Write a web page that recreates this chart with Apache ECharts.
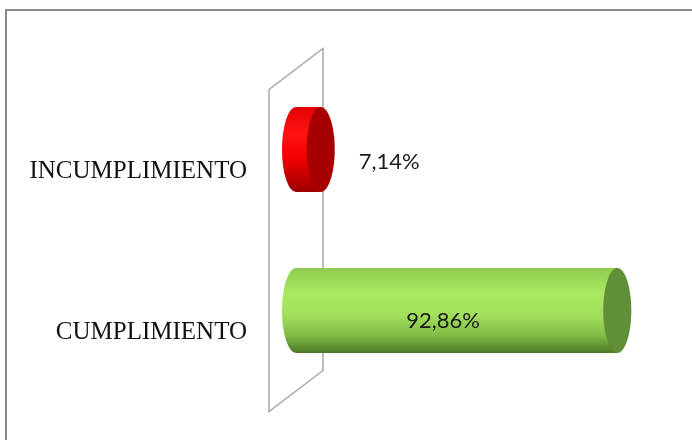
<!DOCTYPE html>
<html>
<head>
<meta charset="utf-8">
<script src="https://cdn.jsdelivr.net/npm/echarts@6/dist/echarts.min.js"></script>
<style>
  html, body { margin: 0; padding: 0; background: #ffffff; }
  #chart { width: 692px; height: 440px; }
</style>
</head>
<body>
<div id="chart"></div>
<script>
// Categories listed bottom to top along the vertical axis
const categories = ['CUMPLIMIENTO', 'INCUMPLIMIENTO'];
const percentValues = [92.86, 7.14];
const valueLabels = ['92,86%', '7,14%'];

// Cylinder shading per category
const bodyStops = [
  [[0, '#8ecb50'], [0.3, '#a9e962'], [0.55, '#a1e05b'], [0.8, '#80ba45'], [1, '#4d7826']],
  [[0, '#e00000'], [0.3, '#ff1414'], [0.6, '#f20000'], [1, '#9a0000']]
];
const capColors = ['#608f37', '#a60000'];

// Oblique depth used for the back wall and label offsets
const DEPTH_X = 27;
const DEPTH_Y = 20.5;

const chart = echarts.init(document.getElementById('chart'), null, { renderer: 'canvas' });

function renderWall(params, api) {
  const cs = params.coordSys;
  const x0 = api.coord([0, 0])[0];
  const top = cs.y, bottom = cs.y + cs.height;
  return {
    type: 'polygon',
    shape: {
      points: [
        [x0 - DEPTH_X, top + DEPTH_Y],
        [x0 + DEPTH_X, top - DEPTH_Y],
        [x0 + DEPTH_X, bottom - DEPTH_Y],
        [x0 - DEPTH_X, bottom + DEPTH_Y]
      ]
    },
    style: { fill: 'none', stroke: '#a6a6a6', lineWidth: 1.5 }
  };
}

function renderCylinder(params, api) {
  const i = params.dataIndex;
  const cat = api.value(0);
  const val = api.value(1);
  const start = api.coord([0, cat]);
  const end = api.coord([val, cat]);
  const band = api.size([0, 1])[1];
  const ry = band * 0.264;
  const rx = ry * 0.33;
  const cy = start[1];
  const top = cy - ry, bottom = cy + ry;
  const sx = start[0], ex = end[0];
  const bodyPath =
    'M' + sx + ',' + top +
    ' L' + ex + ',' + top +
    ' L' + ex + ',' + bottom +
    ' L' + sx + ',' + bottom +
    ' A' + rx + ',' + ry + ' 0 0 1 ' + sx + ',' + top + ' Z';

  const inside = (ex - sx) > 80;
  const label = inside
    ? { x: (sx + ex) / 2 - DEPTH_X / 2, y: cy + DEPTH_Y / 2, align: 'center' }
    : { x: ex + rx + 24, y: cy + 12, align: 'left' };

  return {
    type: 'group',
    children: [
      {
        type: 'path',
        shape: { pathData: bodyPath },
        style: {
          fill: new echarts.graphic.LinearGradient(0, 0, 0, 1,
            bodyStops[i].map(s => ({ offset: s[0], color: s[1] })))
        }
      },
      {
        type: 'ellipse',
        shape: { cx: ex, cy: cy, rx: rx, ry: ry },
        style: { fill: capColors[i] }
      },
      {
        type: 'text',
        x: label.x,
        y: label.y,
        style: {
          text: valueLabels[i],
          fontFamily: 'Lato',
          fontSize: 22,
          fill: '#1a1a1a',
          align: label.align,
          verticalAlign: 'middle'
        }
      }
    ]
  };
}

const option = {
  animation: false,
  backgroundColor: '#ffffff',
  graphic: [{
    type: 'rect',
    shape: { x: 6, y: 10, width: 700, height: 450 },
    style: { fill: 'none', stroke: '#8a8a8a', lineWidth: 2 },
    z: 10
  }],
  grid: { left: 296, right: 50, top: 69, bottom: 49, outerBoundsMode: 'none' },
  xAxis: { type: 'value', min: 0, max: 100, show: false },
  yAxis: {
    type: 'category',
    data: categories,
    axisLine: { show: false },
    axisTick: { show: false },
    splitLine: { show: false },
    axisLabel: {
      margin: 49,
      fontFamily: 'Liberation Serif',
      fontSize: 25,
      color: '#111111',
      verticalAlign: 'top',
      lineHeight: 43
    }
  },
  series: [
    {
      type: 'custom',
      name: 'wall',
      renderItem: renderWall,
      data: [[0, 0]],
      encode: { x: 1, y: 0 },
      z: 1,
      silent: true
    },
    {
      type: 'custom',
      name: 'porcentaje',
      renderItem: renderCylinder,
      data: categories.map((c, i) => [i, percentValues[i]]),
      encode: { x: 1, y: 0 },
      z: 2
    }
  ]
};

chart.setOption(option);
</script>
</body>
</html>
